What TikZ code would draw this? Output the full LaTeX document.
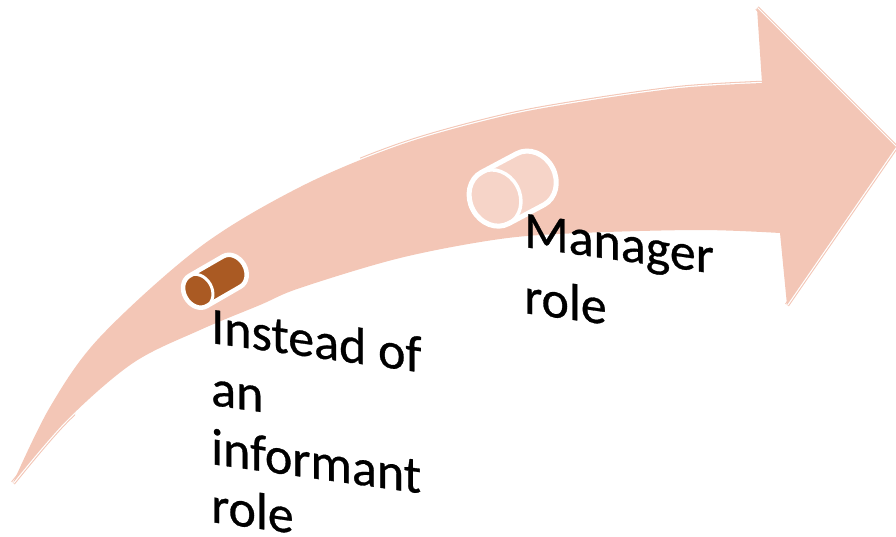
\documentclass[tikz,border=0pt]{standalone}
\usepackage{fontspec}
\setmainfont{Carlito}
\newfontfamily\lblfont{Carlito}[FakeBold=0.6]
\definecolor{arrowc}{RGB}{243,198,182}
\definecolor{darkcyl}{RGB}{170,90,35}
\definecolor{lightcyl}{RGB}{246,212,200}
\tikzset{
  lbl/.style={font=\lblfont\fontsize{52}{60}\selectfont, anchor=base west, inner sep=0pt, yslant=-0.14, text=black},
  hlpink/.style={draw=arrowc, line width=4.5pt, line join=miter},
  hlwhite/.style={draw=white, line width=2.4pt, line join=miter}
}
\begin{document}
\begin{tikzpicture}[x=1pt,y=-1pt]
\useasboundingbox (0,0) rectangle (896,536);
% highlight (reflection) along top edge and head
\begin{scope}
  \clip (360,0) rectangle (896,536);
  \path[hlpink] plot[smooth, tension=0.55] coordinates {(13,483) (50,407) (100,337) (200,247) (300,187) (400,145) (500,117) (580,102) (680,88) (762,83)};
  \path[hlwhite] plot[smooth, tension=0.55] coordinates {(13,483) (50,407) (100,337) (200,247) (300,187) (400,145) (500,117) (580,102) (680,88) (762,83)};
\end{scope}
\path[hlpink] (757,8) -- (896,147) -- (787,305);
\path[hlwhite] (757,8) -- (896,147) -- (787,305);
\begin{scope}
  \clip (0,410) rectangle (75,536);
  \path[hlpink] plot[smooth, tension=0.55] coordinates {(133,363) (67,420) (13,483)};
  \path[hlwhite] plot[smooth, tension=0.55] coordinates {(133,363) (67,420) (13,483)};
\end{scope}
% the curved arrow
\fill[arrowc] plot[smooth, tension=0.55] coordinates {(13,483) (50,407) (100,337) (200,247) (300,187) (400,145) (500,117) (580,102) (680,88) (762,83)}
  -- (757,8) -- (896,147) -- (787,305) -- (780,233)
  -- plot[smooth, tension=0.55] coordinates {(780,233) (700,230) (580,233) (500,239) (400,258) (300,288) (260,305) (200,330) (133,363) (67,420) (13,483)} -- cycle;
% small dark cylinder
\begin{scope}[shift={(198,291)}, rotate=30]
  \filldraw[fill=darkcyl, draw=white, line width=4.5pt, line join=round]
    (0pt,17.5pt) -- (39pt,17.5pt) arc[start angle=90, end angle=-90, x radius=14pt, y radius=17.5pt]
    -- (0pt,-17.5pt) arc[start angle=270, end angle=90, x radius=14pt, y radius=17.5pt] -- cycle;
  \draw[white, line width=3pt] (0pt,0pt) ellipse[x radius=14pt, y radius=17.5pt];
\end{scope}
% large light cylinder
\begin{scope}[shift={(495,198)}, rotate=28]
  \filldraw[fill=lightcyl, draw=white, line width=5pt, line join=round]
    (0pt,29pt) -- (40pt,29pt) arc[start angle=90, end angle=-90, x radius=25pt, y radius=29pt]
    -- (0pt,-29pt) arc[start angle=270, end angle=90, x radius=25pt, y radius=29pt] -- cycle;
  \draw[white, line width=3.5pt] (0pt,0pt) ellipse[x radius=25pt, y radius=29pt];
\end{scope}
% texts
\node[lbl] (t1) at (211,343) {Instead of};
\node[lbl] (t2) at (211,405) {an};
\node[lbl] (t3) at (211,464) {informant};
\node[lbl] (t4) at (211,522) {role};
\node[lbl] (m1) at (524,247) {Manager};
\node[lbl] (m2) at (524,313) {role};
\end{tikzpicture}
\end{document}
